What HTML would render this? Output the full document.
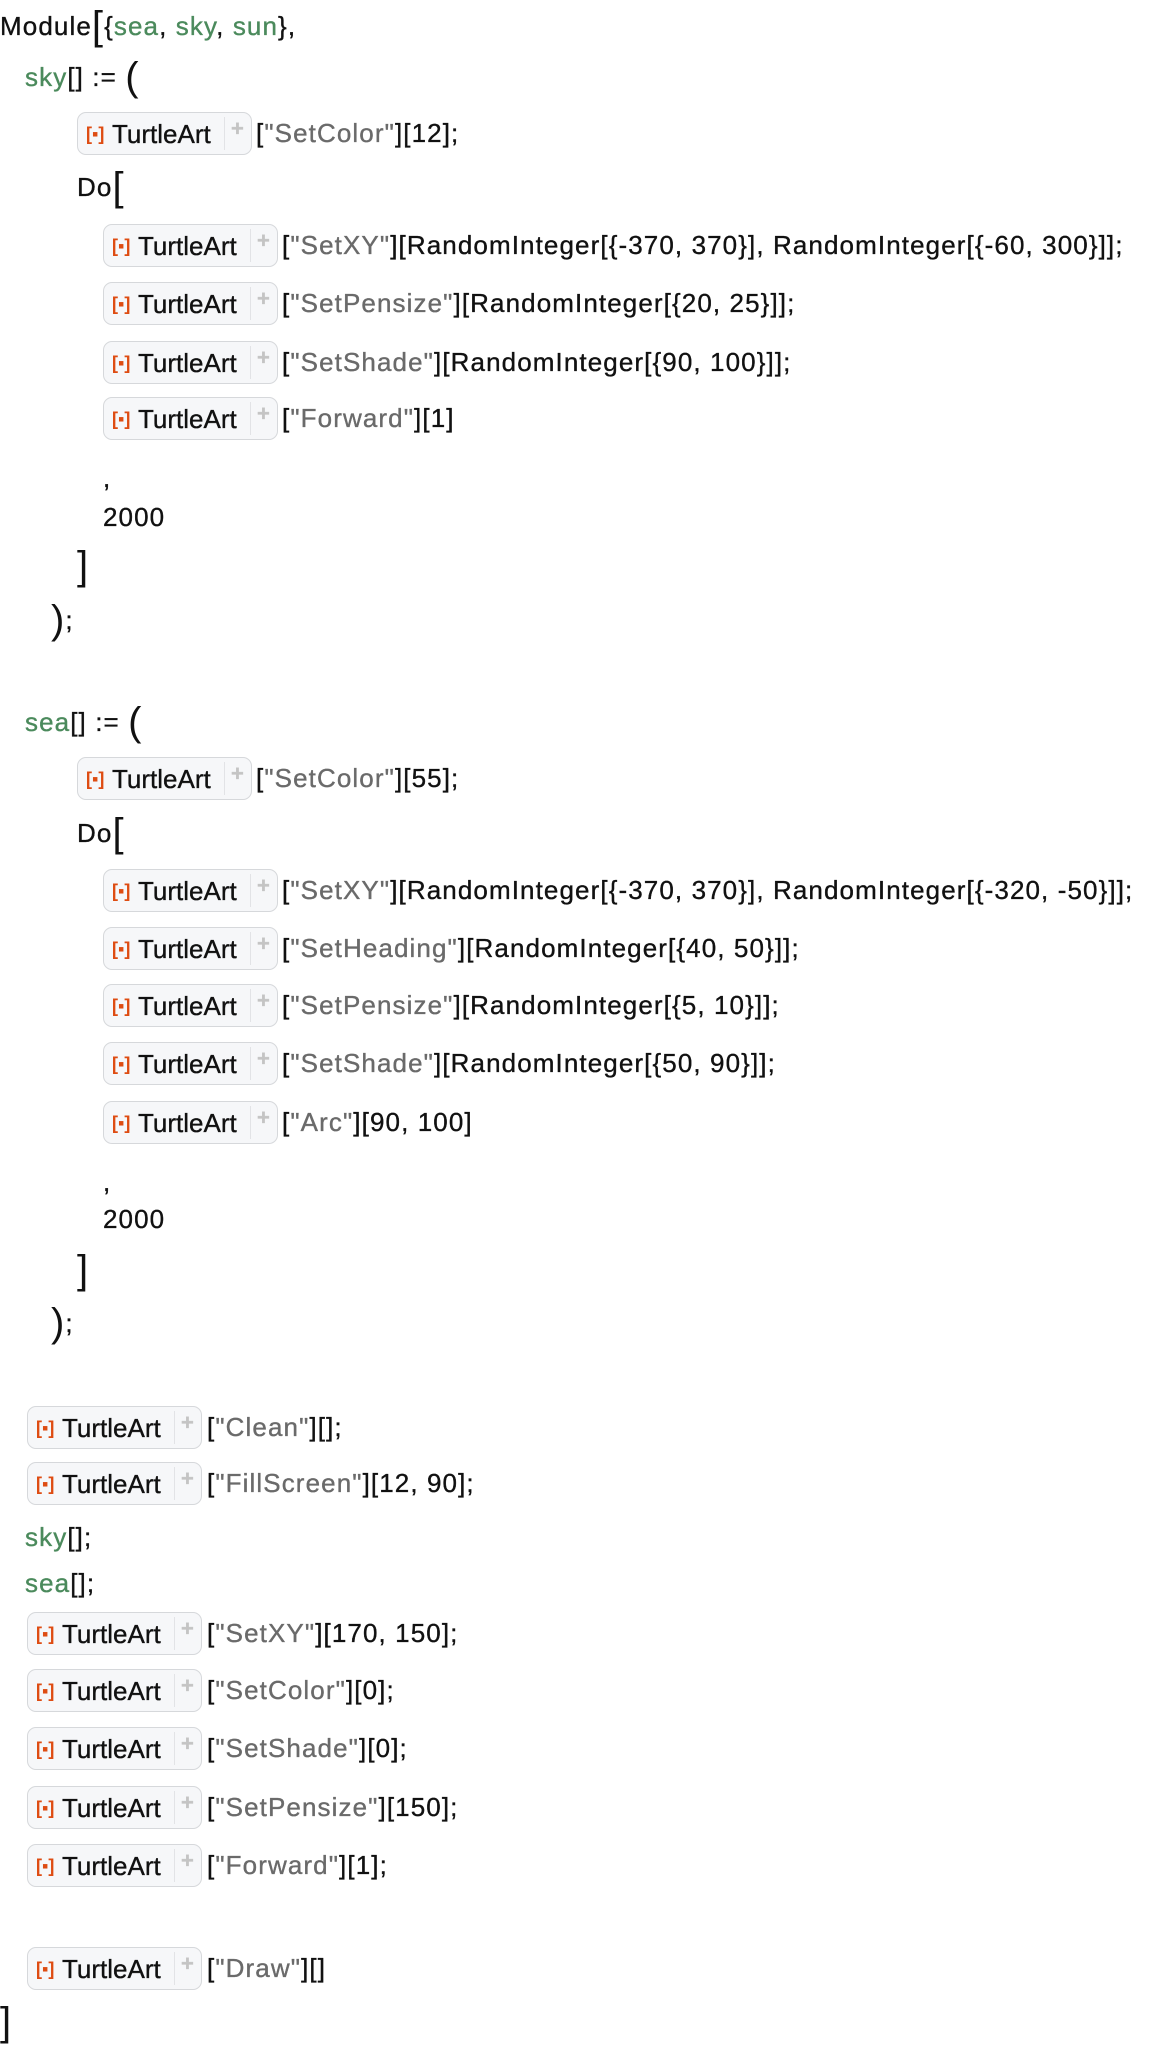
<!DOCTYPE html>
<html><head><meta charset="utf-8"><style>
body{margin:0;width:1152px;height:2046px;background:#fff;position:relative;overflow:hidden;font-family:"Liberation Sans",sans-serif;font-size:26px;color:#111;-webkit-text-stroke:0.35px currentColor;}
.l{position:absolute;height:30px;line-height:30px;white-space:nowrap;letter-spacing:1.1px}
.g{color:#4b8a5c}.s{color:#6a6a6a}
.b{position:absolute;width:175px;height:43px;border:1.5px solid #d6d8db;border-radius:9px;background:#f6f7f9;box-sizing:border-box;}
.b .i{position:absolute;left:8px;top:11px;color:#de4c12;font-size:18px;font-weight:bold;line-height:20px;-webkit-text-stroke:0}
.b .t{position:absolute;left:34px;top:6px;line-height:30px;font-size:26px;color:#111}
.b .d{position:absolute;left:146px;top:4px;bottom:4px;border-left:1px solid #e2e3e6}
.b .p{position:absolute;left:153px;top:4px;color:#c4c4c4;font-size:22px;line-height:24px;font-weight:bold}
.big{font-size:40px;line-height:30px;vertical-align:-4px;-webkit-text-stroke:0}
</style></head><body>
<div class="l" style="left:0;top:11px">Module<span class="big">[</span>{<span class="g">sea</span>, <span class="g">sky</span>, <span class="g">sun</span>},</div>
<div class="l" style="left:25px;top:62px"><span class="g">sky</span>[] := <span class="big">(</span></div>

<div class="b" style="left:77px;top:112px"><span class="i">[▪]</span><span class="t">TurtleArt</span><span class="d"></span><span class="p">+</span></div>
<div class="l" style="left:256px;top:118px">[<span class="s">"SetColor"</span>][12];</div>
<div class="l" style="left:77px;top:172px">Do<span class="big">[</span></div>

<div class="b" style="left:103px;top:224px"><span class="i">[▪]</span><span class="t">TurtleArt</span><span class="d"></span><span class="p">+</span></div>
<div class="l" style="left:282px;top:230px">[<span class="s">"SetXY"</span>][RandomInteger[{-370, 370}], RandomInteger[{-60, 300}]];</div>
<div class="b" style="left:103px;top:282px"><span class="i">[▪]</span><span class="t">TurtleArt</span><span class="d"></span><span class="p">+</span></div>
<div class="l" style="left:282px;top:288px">[<span class="s">"SetPensize"</span>][RandomInteger[{20, 25}]];</div>
<div class="b" style="left:103px;top:341px"><span class="i">[▪]</span><span class="t">TurtleArt</span><span class="d"></span><span class="p">+</span></div>
<div class="l" style="left:282px;top:347px">[<span class="s">"SetShade"</span>][RandomInteger[{90, 100}]];</div>
<div class="b" style="left:103px;top:397px"><span class="i">[▪]</span><span class="t">TurtleArt</span><span class="d"></span><span class="p">+</span></div>
<div class="l" style="left:282px;top:403px">[<span class="s">"Forward"</span>][1]</div>
<div class="l" style="left:103px;top:463px">,</div>
<div class="l" style="left:103px;top:502px">2000</div>
<div class="l" style="left:77px;top:551px"><span class="big">]</span></div>
<div class="l" style="left:51px;top:605px"><span class="big">)</span>;</div>

<div class="l" style="left:25px;top:707px"><span class="g">sea</span>[] := <span class="big">(</span></div>
<div class="b" style="left:77px;top:757px"><span class="i">[▪]</span><span class="t">TurtleArt</span><span class="d"></span><span class="p">+</span></div>
<div class="l" style="left:256px;top:763px">[<span class="s">"SetColor"</span>][55];</div>
<div class="l" style="left:77px;top:818px">Do<span class="big">[</span></div>
<div class="b" style="left:103px;top:869px"><span class="i">[▪]</span><span class="t">TurtleArt</span><span class="d"></span><span class="p">+</span></div>
<div class="l" style="left:282px;top:875px">[<span class="s">"SetXY"</span>][RandomInteger[{-370, 370}], RandomInteger[{-320, -50}]];</div>
<div class="b" style="left:103px;top:927px"><span class="i">[▪]</span><span class="t">TurtleArt</span><span class="d"></span><span class="p">+</span></div>
<div class="l" style="left:282px;top:933px">[<span class="s">"SetHeading"</span>][RandomInteger[{40, 50}]];</div>
<div class="b" style="left:103px;top:984px"><span class="i">[▪]</span><span class="t">TurtleArt</span><span class="d"></span><span class="p">+</span></div>
<div class="l" style="left:282px;top:990px">[<span class="s">"SetPensize"</span>][RandomInteger[{5, 10}]];</div>
<div class="b" style="left:103px;top:1042px"><span class="i">[▪]</span><span class="t">TurtleArt</span><span class="d"></span><span class="p">+</span></div>
<div class="l" style="left:282px;top:1048px">[<span class="s">"SetShade"</span>][RandomInteger[{50, 90}]];</div>
<div class="b" style="left:103px;top:1101px"><span class="i">[▪]</span><span class="t">TurtleArt</span><span class="d"></span><span class="p">+</span></div>
<div class="l" style="left:282px;top:1107px">[<span class="s">"Arc"</span>][90, 100]</div>
<div class="l" style="left:103px;top:1167px">,</div>
<div class="l" style="left:103px;top:1204px">2000</div>
<div class="l" style="left:77px;top:1255px"><span class="big">]</span></div>
<div class="l" style="left:51px;top:1308px"><span class="big">)</span>;</div>

<div class="b" style="left:27px;top:1406px"><span class="i">[▪]</span><span class="t">TurtleArt</span><span class="d"></span><span class="p">+</span></div>
<div class="l" style="left:207px;top:1412px">[<span class="s">"Clean"</span>][];</div>
<div class="b" style="left:27px;top:1462px"><span class="i">[▪]</span><span class="t">TurtleArt</span><span class="d"></span><span class="p">+</span></div>
<div class="l" style="left:207px;top:1468px">[<span class="s">"FillScreen"</span>][12, 90];</div>
<div class="l" style="left:25px;top:1522px"><span class="g">sky</span>[];</div>
<div class="l" style="left:25px;top:1568px"><span class="g">sea</span>[];</div>
<div class="b" style="left:27px;top:1612px"><span class="i">[▪]</span><span class="t">TurtleArt</span><span class="d"></span><span class="p">+</span></div>
<div class="l" style="left:207px;top:1618px">[<span class="s">"SetXY"</span>][170, 150];</div>
<div class="b" style="left:27px;top:1669px"><span class="i">[▪]</span><span class="t">TurtleArt</span><span class="d"></span><span class="p">+</span></div>
<div class="l" style="left:207px;top:1675px">[<span class="s">"SetColor"</span>][0];</div>
<div class="b" style="left:27px;top:1727px"><span class="i">[▪]</span><span class="t">TurtleArt</span><span class="d"></span><span class="p">+</span></div>
<div class="l" style="left:207px;top:1733px">[<span class="s">"SetShade"</span>][0];</div>
<div class="b" style="left:27px;top:1786px"><span class="i">[▪]</span><span class="t">TurtleArt</span><span class="d"></span><span class="p">+</span></div>
<div class="l" style="left:207px;top:1792px">[<span class="s">"SetPensize"</span>][150];</div>
<div class="b" style="left:27px;top:1844px"><span class="i">[▪]</span><span class="t">TurtleArt</span><span class="d"></span><span class="p">+</span></div>
<div class="l" style="left:207px;top:1850px">[<span class="s">"Forward"</span>][1];</div>
<div class="b" style="left:27px;top:1947px"><span class="i">[▪]</span><span class="t">TurtleArt</span><span class="d"></span><span class="p">+</span></div>
<div class="l" style="left:207px;top:1953px">[<span class="s">"Draw"</span>][]</div>
<div class="l" style="left:0;top:2007px"><span class="big">]</span></div>
</body></html>
